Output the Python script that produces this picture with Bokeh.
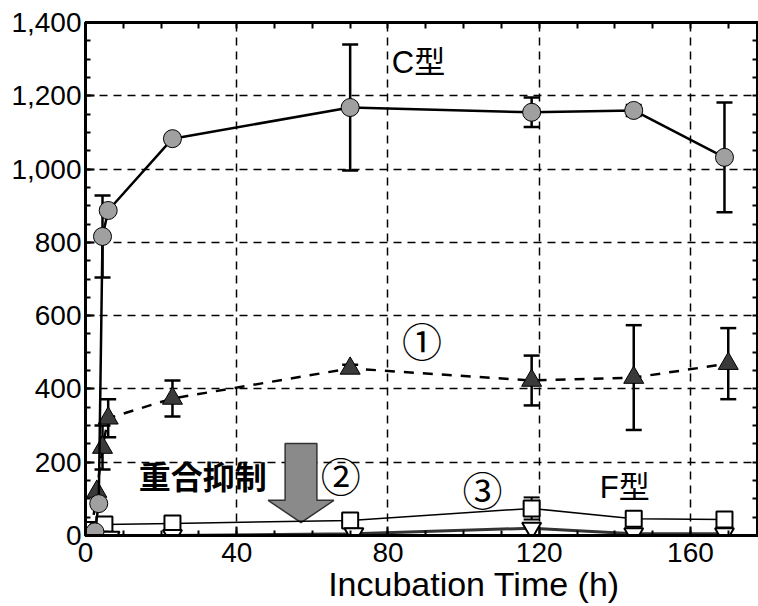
from bokeh.plotting import figure
from bokeh.models import (ColumnDataSource, Whisker, TeeHead, LinearAxis, SingleIntervalTicker,
                          FixedTicker, NumeralTickFormatter, Label, Range1d)
from bokeh.embed import file_html
from bokeh.resources import INLINE

# ---------------- data ----------------
# C型 (grey circles, solid line)
c_t = [2.5, 3.5, 4.5, 6, 23, 70, 118, 145, 169]
c_v = [10, 87, 816, 887, 1083, 1168, 1155, 1160, 1032]
c_e = [0, 0, 112, 0, 10, 172, 40, 15, 150]

# ① (dark triangles, dashed line)
s1_t = [1.5, 3, 4.5, 6, 23, 70, 118, 145, 170]
s1_v = [5, 120, 240, 320, 374, 456, 423, 431, 469]
s1_e = [0, 0, 60, 52, 49, 10, 68, 143, 97]

# ② (open inverted triangles)
s2_t = [0.5, 2, 3.5, 5, 6.5, 23, 71, 118, 145, 169]
s2_v = [-5, -5, -5, -5, -5, 0, 5, 20, 5, 5]

# ③ (open squares)
s3_t = [1, 5, 23, 70, 118, 145, 169]
s3_v = [15, 30, 33, 41, 74, 46, 44]
s3_e = [0, 0, 0, 0, 30, 0, 0]

x_ticks_interval = 40
y_ticks_interval = 200
x_minor_step = 10
y_minor_step = 50
x_max = 178
y_max = 1400
x_title = "Incubation Time (h)"

FONT = "Liberation Sans"
JFONT = "Liberation Sans, Noto Sans CJK JP"

p = figure(width=758, height=606, output_backend="svg", toolbar_location=None,
           x_range=Range1d(0, x_max), y_range=Range1d(0, y_max),
           min_border_left=85, min_border_top=22, min_border_right=0, min_border_bottom=71)
p.background_fill_color = "white"
p.border_fill_color = "white"
p.outline_line_color = "black"
p.outline_line_width = 3

xt = SingleIntervalTicker(interval=x_ticks_interval, num_minor_ticks=4)
yt = SingleIntervalTicker(interval=y_ticks_interval, num_minor_ticks=4)
p.xaxis[0].ticker = xt
p.yaxis[0].ticker = yt
p.yaxis[0].formatter = NumeralTickFormatter(format="0,0")

def style_axis(ax):
    ax.axis_line_width = 3
    ax.axis_line_color = "black"
    ax.major_tick_in = 9
    ax.major_tick_out = 0
    ax.minor_tick_in = 5
    ax.minor_tick_out = 0
    ax.major_tick_line_width = 2
    ax.minor_tick_line_width = 2
    ax.major_label_text_font = FONT
    ax.major_label_text_color = "black"
    ax.major_label_text_font_size = "28px"

style_axis(p.xaxis[0])
style_axis(p.yaxis[0])
p.xaxis[0].major_label_standoff = 7
p.yaxis[0].major_label_standoff = 4
# leading no-break spaces shift the centred title to the right, as in the reference
p.xaxis[0].axis_label = "\u00a0" * 11 + x_title
p.xaxis[0].axis_label_text_font = FONT
p.xaxis[0].axis_label_text_font_style = "normal"
p.xaxis[0].axis_label_text_font_size = "34px"
p.xaxis[0].axis_label_text_color = "black"
p.xaxis[0].axis_label_standoff = 0

# top / right axes: ticks only, no labels
top_ticks = FixedTicker(ticks=[], minor_ticks=list(range(0, x_max + 1, x_minor_step)))
right_ticks = FixedTicker(ticks=[], minor_ticks=list(range(0, y_max + 1, y_minor_step)))
for ax, tk, side in ((LinearAxis(), top_ticks, "above"), (LinearAxis(), right_ticks, "right")):
    ax.ticker = tk
    ax.axis_line_width = 3
    ax.major_tick_in = 0
    ax.major_tick_out = 0
    ax.minor_tick_in = 6
    ax.minor_tick_out = 0
    ax.minor_tick_line_width = 2
    p.add_layout(ax, side)

for g in (p.xgrid[0], p.ygrid[0]):
    g.grid_line_color = "black"
    g.grid_line_dash = "8 6"
    g.grid_line_width = 1.5
p.xgrid[0].ticker = xt
p.ygrid[0].ticker = yt

# ---------------- arrow (重合抑制) ----------------
arrow_x = 57
arrow_top = 251
arrow_head = 96
arrow_tip = 35
shaft_hw = 4.2
head_hw = 8.7
p.patch([arrow_x - shaft_hw, arrow_x + shaft_hw, arrow_x + shaft_hw, arrow_x + head_hw,
         arrow_x, arrow_x - head_hw, arrow_x - shaft_hw],
        [arrow_top, arrow_top, arrow_head, arrow_head, arrow_tip, arrow_head, arrow_head],
        fill_color="#8a8a8a", line_color="#333333", line_width=1.5)

# ---------------- series ----------------
def whiskers(t, v, e, width):
    tt = [a for a, c in zip(t, e) if c > 0]
    up = [b + c for b, c in zip(v, e) if c > 0]
    lo = [b - c for b, c in zip(v, e) if c > 0]
    src = ColumnDataSource(dict(t=tt, up=up, lo=lo))
    w = Whisker(source=src, base="t", upper="up", lower="lo", line_width=width, line_color="black",
                upper_head=TeeHead(size=16, line_width=width, line_color="black"),
                lower_head=TeeHead(size=16, line_width=width, line_color="black"))
    p.add_layout(w)

# ③ squares
p.line(s3_t, s3_v, line_color="black", line_width=1.5)
whiskers(s3_t, s3_v, s3_e, 2)
p.scatter(s3_t, s3_v, marker="square", size=16, fill_color="white", line_color="black", line_width=2)

# ② inverted triangles
p.line(s2_t, s2_v, line_color="#333333", line_width=3)
p.scatter(s2_t, s2_v, marker="inverted_triangle", size=19, fill_color="white", line_color="black", line_width=2)

# ① triangles
p.line(s1_t, s1_v, line_color="black", line_width=2.5, line_dash="10 9")
whiskers(s1_t, s1_v, s1_e, 2.5)
p.scatter(s1_t, s1_v, marker="triangle", size=20, fill_color="#3a3a3a", line_color="black", line_width=1)

# C型 circles
p.line(c_t, c_v, line_color="black", line_width=2.5)
whiskers(c_t, c_v, c_e, 2.5)
p.scatter(c_t, c_v, marker="circle", size=18, fill_color="#a0a0a0", line_color="black", line_width=1)

# ---------------- texts ----------------
def lab(x, y, txt, size, bold=False, align="left"):
    p.add_layout(Label(x=x, y=y, text=txt, text_font=JFONT, text_font_size=size,
                       text_font_style="bold" if bold else "normal", text_color="black",
                       text_align=align, text_baseline="middle"))

lab(81, 1290, "C型", "31px")
lab(89, 524, "①", "40px", align="center")
lab(67.5, 156, "②", "40px", align="center")
lab(105, 120, "③", "40px", align="center")
lab(136, 130, "F型", "31px")
lab(31, 158, "重合抑制", "32px", bold=True, align="center")

open("out.html", "w").write(file_html(p, INLINE))
